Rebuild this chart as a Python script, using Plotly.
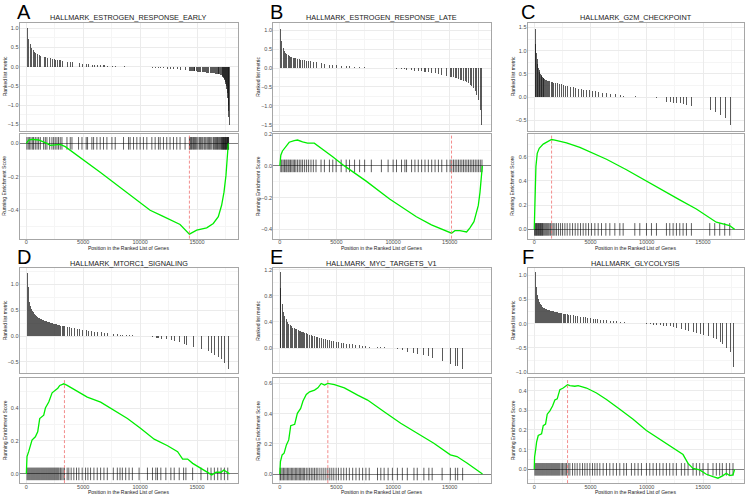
import plotly.graph_objects as go

W, H = 748, 497

titles = ['HALLMARK_ESTROGEN_RESPONSE_EARLY', 'HALLMARK_ESTROGEN_RESPONSE_LATE',
          'HALLMARK_G2M_CHECKPOINT', 'HALLMARK_MTORC1_SIGNALING',
          'HALLMARK_MYC_TARGETS_V1', 'HALLMARK_GLYCOLYSIS']
letters = ['A', 'B', 'C', 'D', 'E', 'F']

# positions of the gene-set hits in the ranked list, and the ranked metric there
hits_a = [50, 170, 290, 410, 560, 640, 790, 940, 1080, 1230,
          1520, 1670, 1810, 2050, 2250, 2400, 2540, 2690, 2830, 2980,
          3130, 3570, 3860, 4010, 4590, 4890, 5260, 5380, 5760, 5910,
          6200, 6490, 6780, 7080, 7520, 7810, 8540, 8980, 9120, 9420,
          9710, 10000, 10290, 10590, 11030, 11320, 11610, 11760, 12050, 12340,
          12630, 12930, 13220, 13510, 13950, 14330, 14380, 14450, 14520, 14620,
          14700, 14770, 14870, 14970, 15080, 15210, 15300, 15410, 15500, 15620,
          15700, 15790, 15900, 16000, 16100, 16200, 16300, 16430, 16500, 16580,
          16650, 16720, 16800, 16870, 16950, 17020, 17090, 17160, 17200, 17250,
          17300, 17340, 17380, 17430, 17470, 17510, 17550, 17600, 17640, 17690,
          17710, 17740, 17770]
metric_a = [1.02, 0.72, 0.60, 0.50, 0.45, 0.40, 0.37, 0.33, 0.31, 0.29,
            0.26, 0.25, 0.23, 0.22, 0.21, 0.20, 0.19, 0.18, 0.17, 0.17,
            0.16, 0.14, 0.13, 0.12, 0.09, 0.08, 0.07, 0.065, 0.06, 0.055,
            0.05, 0.045, 0.04, 0.035, 0.03, 0.025, 0.015, 0.01, 0.008, 0.004,
            0.0, -0.004, -0.008, -0.012, -0.02, -0.025, -0.03, -0.033, -0.04, -0.045,
            -0.05, -0.055, -0.06, -0.07, -0.08, -0.10, -0.10, -0.10, -0.105, -0.11,
            -0.11, -0.11, -0.115, -0.12, -0.12, -0.13, -0.13, -0.13, -0.135, -0.14,
            -0.14, -0.145, -0.145, -0.15, -0.155, -0.16, -0.165, -0.17, -0.17, -0.175,
            -0.18, -0.18, -0.185, -0.19, -0.195, -0.20, -0.21, -0.23, -0.25, -0.27,
            -0.30, -0.32, -0.35, -0.40, -0.45, -0.50, -0.58, -0.68, -0.80, -1.00,
            -1.15, -1.30, -1.50]

hits_b = [89, 178, 296, 414, 533, 622, 740, 829, 947, 1066,
          1184, 1302, 1421, 1569, 1717, 1865, 2013, 2190, 2368, 2546,
          2753, 2960, 3197, 3641, 3937, 4381, 4677, 4973, 5417, 5861,
          6157, 6601, 7045, 7489, 8081, 8969, 9561, 10005, 10301, 10745,
          11041, 11189, 11633, 11929, 12225, 12521, 12817, 13113, 13409, 13705,
          14001, 14297, 14741, 15037, 15185, 15333, 15481, 15629, 15777, 15925,
          16073, 16220, 16368, 16516, 16664, 16812, 16960, 17108, 17256, 17404,
          17552, 17700, 17848]
metric_b = [1.05, 0.72, 0.55, 0.46, 0.41, 0.37, 0.34, 0.32, 0.30, 0.29,
            0.28, 0.27, 0.26, 0.25, 0.24, 0.23, 0.22, 0.21, 0.20, 0.19,
            0.18, 0.17, 0.16, 0.13, 0.12, 0.10, 0.09, 0.08, 0.07, 0.06,
            0.05, 0.045, 0.04, 0.03, 0.02, 0.01, 0.005, 0.0, -0.01, -0.02,
            -0.03, -0.035, -0.05, -0.06, -0.07, -0.08, -0.09, -0.10, -0.12, -0.13,
            -0.15, -0.17, -0.20, -0.22, -0.23, -0.24, -0.26, -0.27, -0.28, -0.30,
            -0.31, -0.33, -0.35, -0.37, -0.40, -0.44, -0.48, -0.53, -0.60, -0.70,
            -0.85, -1.10, -1.50]

hits_c = [30, 89, 148, 207, 266, 326, 385, 444, 503, 562,
          622, 681, 740, 799, 888, 977, 1066, 1154, 1243, 1332,
          1450, 1569, 1687, 1835, 1983, 2161, 2338, 2516, 2723, 2930,
          3167, 3404, 3641, 3878, 4114, 4351, 4588, 4825, 5091, 5387,
          5683, 5979, 6364, 6719, 7163, 7607, 7903, 8939, 9383, 9975,
          10419, 10863, 11751, 12047, 12343, 12639, 12935, 13231, 13527, 13971,
          15599, 16043, 16487, 16931, 17375]
metric_c = [1.48, 1.15, 0.95, 0.82, 0.72, 0.64, 0.58, 0.54, 0.50, 0.48,
            0.46, 0.44, 0.42, 0.41, 0.39, 0.38, 0.37, 0.36, 0.35, 0.345,
            0.34, 0.33, 0.32, 0.31, 0.30, 0.29, 0.28, 0.27, 0.25, 0.24,
            0.23, 0.22, 0.20, 0.19, 0.18, 0.17, 0.16, 0.15, 0.14, 0.13,
            0.11, 0.10, 0.09, 0.08, 0.07, 0.05, 0.04, 0.02, 0.015, 0.01,
            0.005, -0.01, -0.09, -0.10, -0.11, -0.12, -0.13, -0.14, -0.16, -0.18,
            -0.27, -0.32, -0.37, -0.45, -0.60]

hits_d = [59, 147, 235, 323, 412, 500, 588, 676, 764, 853,
          941, 1029, 1117, 1205, 1294, 1382, 1470, 1558, 1646, 1735,
          1823, 1911, 1999, 2087, 2176, 2264, 2352, 2440, 2528, 2617,
          2705, 2793, 2881, 2999, 3116, 3234, 3352, 3587, 3734, 3940,
          4175, 4410, 4616, 4910, 5204, 5410, 5645, 5939, 6233, 6527,
          6821, 7115, 7644, 7997, 8232, 8438, 8732, 9026, 9320, 9908,
          10643, 11084, 11378, 11525, 11819, 12260, 12701, 12995, 13436, 13818,
          14024, 14612, 15347, 15935, 16229, 16523, 16817, 17111, 17405, 17699]
metric_d = [1.22, 0.95, 0.65, 0.57, 0.52, 0.48, 0.45, 0.42, 0.40, 0.38,
            0.36, 0.35, 0.34, 0.33, 0.32, 0.31, 0.30, 0.29, 0.285, 0.28,
            0.27, 0.265, 0.26, 0.25, 0.245, 0.24, 0.235, 0.23, 0.225, 0.22,
            0.21, 0.205, 0.20, 0.195, 0.19, 0.185, 0.18, 0.17, 0.165, 0.155,
            0.145, 0.135, 0.125, 0.115, 0.105, 0.10, 0.09, 0.08, 0.075, 0.065,
            0.055, 0.05, 0.035, 0.025, 0.02, 0.015, 0.01, 0.008, 0.005, 0.0,
            -0.01, -0.02, -0.045, -0.05, -0.06, -0.07, -0.09, -0.10, -0.13, -0.16,
            -0.18, -0.22, -0.26, -0.30, -0.33, -0.37, -0.41, -0.45, -0.52, -0.64]

hits_e = [30, 88, 205, 322, 439, 556, 673, 789, 906, 1023,
          1140, 1257, 1374, 1491, 1608, 1725, 1842, 1959, 2076, 2193,
          2339, 2485, 2632, 2778, 2924, 3070, 3216, 3363, 3538, 3713,
          3889, 4064, 4240, 4415, 4591, 4766, 4971, 5175, 5409, 5643,
          5877, 6140, 6433, 6725, 7018, 7310, 7602, 7895, 8626, 8918,
          9211, 9561, 9942, 10380, 10819, 11257, 11842, 12135, 12719, 13158,
          13450, 14328, 15059, 15497, 15702, 16140]
metric_e = [1.16, 0.92, 0.67, 0.55, 0.48, 0.44, 0.40, 0.37, 0.35, 0.33,
            0.31, 0.30, 0.29, 0.28, 0.27, 0.26, 0.25, 0.24, 0.235, 0.23,
            0.22, 0.21, 0.20, 0.19, 0.18, 0.175, 0.17, 0.16, 0.155, 0.15,
            0.14, 0.13, 0.12, 0.115, 0.11, 0.10, 0.095, 0.09, 0.08, 0.07,
            0.065, 0.06, 0.05, 0.045, 0.04, 0.03, 0.02, 0.015, 0.01, 0.008,
            0.005, 0.004, 0.0, -0.02, -0.04, -0.06, -0.08, -0.09, -0.11, -0.13,
            -0.15, -0.20, -0.25, -0.28, -0.28, -0.32]

hits_f = [59, 148, 237, 325, 414, 503, 592, 681, 769, 858,
          947, 1036, 1124, 1213, 1302, 1391, 1480, 1568, 1657, 1746,
          1835, 1923, 2012, 2101, 2190, 2278, 2397, 2515, 2634, 2752,
          2870, 3018, 3166, 3403, 3610, 3817, 4054, 4291, 4498, 4705,
          4942, 5178, 5385, 5593, 5829, 6125, 6421, 6717, 7013, 7309,
          7605, 7960, 8196, 8640, 8936, 9232, 9528, 9972, 10268, 10564,
          10860, 11155, 11451, 11747, 12043, 12339, 12635, 13079, 13375, 13671,
          14114, 14410, 14706, 15002, 15446, 15890, 16186, 16482, 16719, 17074,
          17370, 17666]
metric_f = [1.06, 0.75, 0.58, 0.50, 0.44, 0.40, 0.37, 0.34, 0.32, 0.31,
            0.30, 0.29, 0.28, 0.275, 0.27, 0.265, 0.26, 0.25, 0.245, 0.24,
            0.235, 0.23, 0.225, 0.22, 0.215, 0.21, 0.205, 0.20, 0.195, 0.19,
            0.185, 0.18, 0.175, 0.165, 0.155, 0.15, 0.14, 0.13, 0.125, 0.115,
            0.11, 0.10, 0.095, 0.09, 0.08, 0.07, 0.06, 0.05, 0.045, 0.04,
            0.03, 0.02, 0.015, 0.01, 0.005, 0.003, 0.0, -0.01, -0.02, -0.025,
            -0.03, -0.04, -0.045, -0.05, -0.06, -0.07, -0.09, -0.11, -0.13, -0.16,
            -0.18, -0.20, -0.22, -0.24, -0.26, -0.30, -0.33, -0.38, -0.43, -0.50,
            -0.58, -0.90]

# running enrichment score curves
es_x_a = [0, 205, 500, 1080, 1810, 2100, 2980, 3420, 6490, 10880, 11930, 13510,
          14330, 14970, 15850, 16430, 16870, 17160, 17370, 17540, 17690, 17750]
es_y_a = [0, 0.02, 0.024, 0.02, 0.0, -0.012, -0.006, -0.02, -0.174, -0.402, -0.436, -0.487,
          -0.545, -0.521, -0.507, -0.481, -0.44, -0.372, -0.293, -0.194, -0.055, 0]
es_x_b = [0, 89, 236, 532, 828, 1271, 1566, 2010, 2453, 3044, 3487, 4669, 5703, 7624, 9693,
          12057, 13387, 14716, 15160, 15455, 15898, 16489, 16785, 17139, 17317, 17524, 17671, 17819, 17878]
es_y_b = [0, 0.067, 0.094, 0.118, 0.149, 0.159, 0.163, 0.151, 0.143, 0.143, 0.118, 0.057, 0.0, -0.096, -0.208,
          -0.32, -0.371, -0.412, -0.424, -0.408, -0.408, -0.416, -0.39, -0.351, -0.294, -0.249, -0.167, -0.065, 0]
es_x_c = [0, 59, 148, 266, 444, 799, 1391, 1538, 1834, 2870, 4053, 5237, 6420, 8195, 9970,
          11746, 12929, 14408, 15296, 16183, 17367, 17811]
es_y_c = [0, 0.303, 0.519, 0.627, 0.668, 0.703, 0.73, 0.741, 0.735, 0.714, 0.676, 0.627, 0.578, 0.492, 0.397,
          0.303, 0.243, 0.168, 0.114, 0.059, 0.032, 0]
es_x_d = [0, 59, 206, 500, 794, 1000, 1176, 1529, 1676, 1971, 2265, 2559, 2765, 2941, 3294, 3588, 4471, 5353,
          6529, 7706, 8882, 10059, 11235, 12412, 13294, 13735, 14176, 14618, 15353, 16088, 16294, 16676, 17118,
          17353, 17853]
es_y_d = [0, 0.105, 0.135, 0.205, 0.225, 0.255, 0.336, 0.356, 0.4, 0.436, 0.492, 0.506, 0.52, 0.537, 0.547, 0.537,
          0.5, 0.466, 0.436, 0.386, 0.336, 0.275, 0.211, 0.171, 0.135, 0.09, 0.09, 0.064, 0.034, 0.004, -0.006,
          0.01, 0.01, 0.024, 0]
es_x_e = [0, 58, 205, 380, 585, 789, 965, 1316, 1550, 1842, 2047, 2339, 2632, 3070, 3363, 3655, 3947, 4240,
          4825, 5702, 6871, 7749, 9211, 10673, 12135, 13596, 15058, 15643, 16520, 17398, 17895]
es_y_e = [0, 0.083, 0.127, 0.138, 0.193, 0.226, 0.32, 0.33, 0.402, 0.435, 0.484, 0.527, 0.545, 0.556, 0.571,
          0.6, 0.589, 0.6, 0.593, 0.571, 0.523, 0.49, 0.413, 0.336, 0.27, 0.204, 0.127, 0.116, 0.073, 0.029, 0]
es_x_f = [0, 30, 118, 207, 355, 651, 799, 1006, 1154, 1391, 1627, 1834, 2041, 2278, 2574, 2781, 2960, 3166,
          3609, 3905, 4645, 5533, 6420, 7604, 8787, 9970, 11154, 12337, 13225, 13669, 14112, 14704, 15296,
          15888, 16331, 16775, 17071, 17367, 17663, 17811]
es_y_f = [0, 0.063, 0.097, 0.138, 0.172, 0.18, 0.222, 0.23, 0.28, 0.297, 0.322, 0.352, 0.358, 0.405, 0.413,
          0.425, 0.43, 0.425, 0.422, 0.425, 0.413, 0.388, 0.355, 0.305, 0.255, 0.197, 0.152, 0.105, 0.075,
          0.03, 0.005, -0.003, -0.025, -0.037, -0.045, -0.032, -0.02, -0.032, -0.028, 0]

peak_x = [14330, 15160, 1540, 3350, 4240, 2960]

hits = [hits_a, hits_b, hits_c, hits_d, hits_e, hits_f]
metric = [metric_a, metric_b, metric_c, metric_d, metric_e, metric_f]
es_x = [es_x_a, es_x_b, es_x_c, es_x_d, es_x_e, es_x_f]
es_y = [es_y_a, es_y_b, es_y_c, es_y_d, es_y_e, es_y_f]

top_range = [[-1.66, 1.14], [-1.66, 1.2], [-0.72, 1.6], [-0.72, 1.31], [-0.385, 1.22], [-1.02, 1.14]]
top_dtick = [0.5, 0.5, 0.5, 0.5, 0.4, 0.5]
es_range = [[-0.572, 0.058], [-0.458, 0.203], [-0.076, 0.789], [-0.056, 0.581], [-0.06, 0.635], [-0.07, 0.463]]
es_dtick = [0.2, 0.2, 0.2, 0.2, 0.2, 0.1]
x_range = [-600, 18600]

# panel boxes in pixels
cols = [(19.5, 238), (273, 490.5), (527.5, 743.5)]
rows = [((20, 129), (132, 238)), ((268, 374), (379, 485))]
letter_dx = [4, 3.5, 0]

FONT = 'Liberation Sans, Arial, sans-serif'
tickfont = dict(family=FONT, size=5.5, color='#4d4d4d')


def ax(n):
    return '' if n == 1 else str(n)


fig = go.Figure()
layout = {}
shapes = []
annotations = []

for i in range(6):
    r, c = divmod(i, 3)
    x0, x1 = cols[c]
    (tt, tb), (bt, bb) = rows[r]
    nt, nb = 2 * i + 1, 2 * i + 2

    grid = dict(showgrid=True, gridcolor='#ebebeb', gridwidth=0.6,
                showline=True, mirror=True, linecolor='#a6a6a6', linewidth=0.8,
                zeroline=False, tickfont=tickfont, ticks='')
    layout['xaxis' + ax(nt)] = dict(domain=[x0 / W, x1 / W], range=x_range, anchor='y' + ax(nt),
                                   dtick=5000, tick0=0, showticklabels=False,
                                   minor=dict(dtick=2500, showgrid=True, gridcolor='#f5f5f5', gridwidth=0.5),
                                   **grid)
    layout['yaxis' + ax(nt)] = dict(domain=[1 - tb / H, 1 - tt / H], range=top_range[i], anchor='x' + ax(nt),
                                   dtick=top_dtick[i], tick0=0, tickformat='.1f', ticklabelstandoff=-1,
                                   minor=dict(dtick=top_dtick[i] / 2, showgrid=True, gridcolor='#f5f5f5', gridwidth=0.5),
                                   **grid)
    layout['xaxis' + ax(nb)] = dict(domain=[x0 / W, x1 / W], range=x_range, anchor='y' + ax(nb),
                                   dtick=5000, tick0=0, tickformat='d', ticklabelstandoff=-2,
                                   minor=dict(dtick=2500, showgrid=True, gridcolor='#f5f5f5', gridwidth=0.5),
                                   **grid)
    ygrid = dict(grid)
    ygrid['zeroline'] = True
    layout['yaxis' + ax(nb)] = dict(domain=[1 - bb / H, 1 - bt / H], range=es_range[i], anchor='x' + ax(nb),
                                   dtick=es_dtick[i], tick0=0, tickformat='.1f', ticklabelstandoff=-1,
                                   zerolinecolor='#7f7f7f', zerolinewidth=1,
                                   minor=dict(dtick=es_dtick[i] / 2, showgrid=True, gridcolor='#f5f5f5', gridwidth=0.5),
                                   **ygrid)

    fig.add_trace(go.Bar(x=hits[i], y=metric[i], width=90,
                         marker=dict(color='rgba(20,20,20,0.7)', line_width=0),
                         xaxis='x' + ax(nt), yaxis='y' + ax(nt), showlegend=False))
    fig.add_trace(go.Scatter(x=hits[i], y=[0] * len(hits[i]), mode='markers',
                             marker=dict(symbol='line-ns', size=9,
                                         line=dict(width=0.9, color='rgba(0,0,0,0.7)')),
                             xaxis='x' + ax(nb), yaxis='y' + ax(nb), showlegend=False))
    fig.add_trace(go.Scatter(x=es_x[i], y=es_y[i], mode='lines',
                             line=dict(color='#00ee00', width=1.3),
                             xaxis='x' + ax(nb), yaxis='y' + ax(nb), showlegend=False))

    shapes.append(dict(type='line', xref='x' + ax(nb), yref='y' + ax(nb) + ' domain',
                       x0=peak_x[i], x1=peak_x[i], y0=0, y1=1,
                       line=dict(color='#f07070', width=0.8, dash='3px,2px')))

    cx = (x0 + x1) / 2
    annotations.append(dict(text=titles[i], x=cx / W, y=1 - (tt - 5) / H, xref='paper', yref='paper',
                            xanchor='center', yanchor='middle', showarrow=False,
                            font=dict(family=FONT, size=7.3, color='#1a1a1a')))
    annotations.append(dict(text=letters[i], x=(x0 + letter_dx[c]) / W, y=1 - (tt - 11) / H,
                            xref='paper', yref='paper', xanchor='center', yanchor='middle', showarrow=False,
                            font=dict(family=FONT, size=20, color='#000000')))
    annotations.append(dict(text='Ranked list metric', x=(x0 - 15) / W, y=1 - (tt + tb) / 2 / H,
                            xref='paper', yref='paper', xanchor='center', yanchor='middle',
                            textangle=-90, showarrow=False, font=dict(family=FONT, size=5, color='#1a1a1a')))
    annotations.append(dict(text='Running Enrichment Score', x=(x0 - 15) / W, y=1 - (bt + bb) / 2 / H,
                            xref='paper', yref='paper', xanchor='center', yanchor='middle',
                            textangle=-90, showarrow=False, font=dict(family=FONT, size=5, color='#1a1a1a')))
    annotations.append(dict(text='Position in the Ranked List of Genes', x=cx / W, y=1 - (bb + 9) / H,
                            xref='paper', yref='paper', xanchor='center', yanchor='middle',
                            showarrow=False, font=dict(family=FONT, size=5, color='#1a1a1a')))

fig.update_layout(width=W, height=H, margin=dict(l=0, r=0, t=0, b=0),
                  paper_bgcolor='white', plot_bgcolor='white',
                  bargap=0, shapes=shapes, annotations=annotations,
                  font=dict(family=FONT), **layout)

# the page body has a default margin; remove it so the figure sits at the window's corner
fig.write_html("out.html", config={'displayModeBar': False},
               post_script="document.body.style.margin='0px';")
